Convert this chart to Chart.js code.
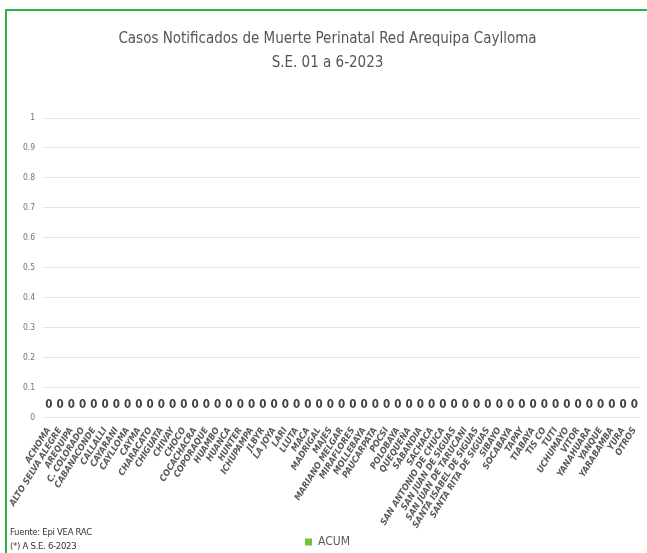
<!DOCTYPE html>
<html>
<head>
<meta charset="utf-8">
<script src="https://cdn.jsdelivr.net/npm/chart.js@4.4.0/dist/chart.umd.min.js"></script>
<style>
    html, body { margin: 0; padding: 0; background: #fff; }
    #wrap { position: relative; width: 647px; height: 553px; overflow: hidden; }
    #frame { position: absolute; left: 5px; top: 9px; width: 660px; height: 560px;
             border-left: 2px solid #2fb24c; border-top: 2px solid #2fb24c; }
    canvas { position: absolute; left: 0; top: 0; }
    .note { position: absolute; left: 10px; font: 9.5px "DejaVu Sans Condensed", sans-serif; color: #333; letter-spacing: -0.3px; }
</style>
</head>
<body>
<div id="wrap">
    <div id="frame"></div>
    <canvas id="chart" width="647" height="553"></canvas>
    <div class="note" style="top:526px">Fuente: Epi VEA RAC</div>
    <div class="note" style="top:540px">(*) A S.E. 6-2023</div>
</div>
<script>
    // Distritos (eje X)
    const distritos = ['ACHOMA', 'ALTO SELVA ALEGRE', 'AREQUIPA', 'C. COLORADO', 'CABANACONDE', 'CALLALLI',
        'CAYARANI', 'CAYLLOMA', 'CAYMA', 'CHARACATO', 'CHIGUATA', 'CHIVAY', 'CHOCO', 'COCACHACRA',
        'COPORAQUE', 'HUAMBO', 'HUANCA', 'HUNTER', 'ICHUPAMPA', 'JLBYR', 'LA JOYA', 'LARI', 'LLUTA',
        'MACA', 'MADRIGAL', 'MAJES', 'MARIANO MELGAR', 'MIRAFLORES', 'MOLLEBAYA', 'PAUCARPATA', 'POCSI',
        'POLOBAYA', 'QUEQUEÑA', 'SABANDIA', 'SACHACA', 'SAN ANTONIO DE CHUCA', 'SAN JUAN DE SIGUAS',
        'SAN JUAN DE TARUCANI', 'SANTA ISABEL DE SIGUAS', 'SANTA RITA DE SIGUAS', 'SIBAYO', 'SOCABAYA',
        'TAPAY', 'TIABAYA', 'TIS CO', 'TUTI', 'UCHUMAYO', 'VITOR', 'YANAHUARA', 'YANQUE', 'YARABAMBA',
        'YURA', 'OTROS'];

    // Casos acumulados (todos en cero)
    const acum = [0, 0, 0, 0, 0, 0, 0, 0, 0, 0, 0, 0, 0, 0, 0, 0, 0, 0, 0, 0, 0, 0, 0, 0, 0, 0, 0,
        0, 0, 0, 0, 0, 0, 0, 0, 0, 0, 0, 0, 0, 0, 0, 0, 0, 0, 0, 0, 0, 0, 0, 0, 0, 0];

    const tituloLineas = ['Casos Notificados de Muerte Perinatal Red Arequipa Caylloma', 'S.E. 01 a 6-2023'];

    const narrow = '"DejaVu Sans Condensed", "Liberation Sans", sans-serif';

    // etiqueta de valor sobre cada barra
    const valueLabels = {
        id: 'valueLabels',
        afterDatasetsDraw(chart) {
            const ctx = chart.ctx;
            const meta = chart.getDatasetMeta(0);
            ctx.save();
            ctx.font = 'bold 11.5px ' + narrow;
            ctx.fillStyle = '#404040';
            ctx.textAlign = 'center';
            ctx.textBaseline = 'bottom';
            meta.data.forEach((bar, i) => {
                ctx.fillText(String(acum[i]), bar.x, bar.y - 7);
            });
            ctx.restore();
        }
    };

    new Chart(document.getElementById('chart'), {
        type: 'bar',
        data: {
            labels: distritos,
            datasets: [{
                label: 'ACUM',
                data: acum,
                backgroundColor: '#6fc23c',
                borderWidth: 0
            }]
        },
        options: {
            responsive: false,
            animation: false,
            layout: { padding: { left: 15, right: 7, top: 27, bottom: -5 } },
            plugins: {
                title: {
                    display: true,
                    text: tituloLineas,
                    color: '#555555',
                    font: { family: narrow, size: 15, weight: 'normal', lineHeight: 1.6 },
                    padding: { top: 0, bottom: 43 }
                },
                legend: {
                    position: 'bottom',
                    labels: {
                        boxWidth: 7,
                        boxHeight: 7,
                        color: '#595959',
                        font: { family: narrow, size: 12 },
                        padding: 6
                    }
                },
                tooltip: { enabled: false }
            },
            scales: {
                x: {
                    grid: { display: false },
                    border: { display: false },
                    ticks: {
                        autoSkip: false,
                        maxRotation: 58,
                        minRotation: 58,
                        color: '#595959',
                        font: { family: narrow, size: 9, style: 'italic', weight: 'bold' },
                        padding: 0
                    }
                },
                y: {
                    min: 0,
                    max: 1,
                    border: { display: false },
                    grid: { color: '#e3e3e3', lineWidth: 1, drawTicks: false },
                    ticks: {
                        stepSize: 0.1,
                        color: '#737373',
                        font: { family: narrow, size: 8.5 },
                        padding: 8,
                        callback: v => String(Math.round(v * 10) / 10)
                    }
                }
            }
        },
        plugins: [valueLabels]
    });
</script>
</body>
</html>
